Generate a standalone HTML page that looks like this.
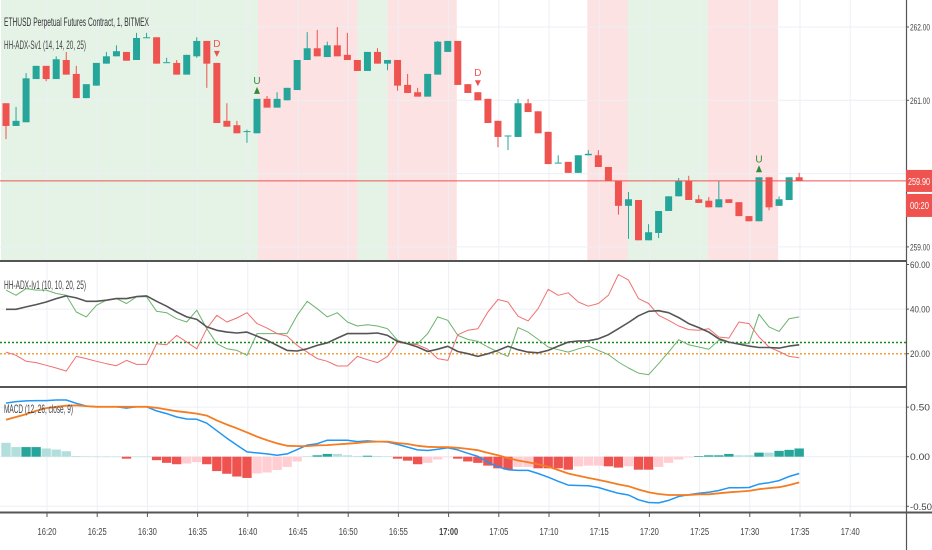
<!DOCTYPE html>
<html><head><meta charset="utf-8">
<style>
html,body{margin:0;padding:0;background:#fff;}
svg{display:block;font-family:"Liberation Sans Narrow","Liberation Sans",sans-serif;}
</style></head>
<body>
<svg id="chart" width="932" height="550" viewBox="0 0 932 550" xmlns="http://www.w3.org/2000/svg"></svg>
<script>
const timeLabels=["16:20","16:25","16:30","16:35","16:40","16:45","16:50","16:55","17:00","17:05","17:10","17:15","17:20","17:25","17:30","17:35","17:40"];
const priceTicks=[262,261,260,259];
const adxTicks=[60,40,20];
const macdTicks=[0.5,0,-0.5];
const openP=[260.96,260.65,260.70,261.29,261.47,261.29,261.55,261.36,261.03,261.20,261.50,261.60,261.66,261.55,261.85,261.86,261.51,261.51,261.35,261.60,261.81,261.51,260.72,260.66,260.57,260.55,261.02,260.90,261.00,261.14,261.55,261.71,261.59,261.75,261.62,261.55,261.40,261.66,261.50,261.55,261.21,261.11,261.05,261.35,261.66,261.81,261.22,261.11,261.02,260.72,260.51,260.50,260.96,260.85,260.57,260.14,260.16,260.01,260.25,260.25,260.09,259.90,259.56,259.64,259.09,259.19,259.49,259.69,259.90,259.65,259.63,259.54,259.65,259.61,259.42,259.35,259.95,259.56,259.64,259.95];
const closeP=[260.65,260.72,261.30,261.47,261.29,261.56,261.35,261.03,261.22,261.51,261.60,261.67,261.54,261.85,261.86,261.50,261.52,261.35,261.62,261.81,261.50,260.69,260.64,260.55,260.58,261.02,260.90,261.02,261.17,261.55,261.71,261.60,261.75,261.60,261.55,261.40,261.66,261.50,261.55,261.20,261.10,261.05,261.36,261.80,261.81,261.21,261.10,261.00,260.69,260.50,260.52,260.96,260.84,260.55,260.13,260.15,260.01,260.25,260.27,260.09,259.90,259.56,259.65,259.09,259.20,259.49,259.69,259.90,259.64,259.60,259.54,259.65,259.60,259.42,259.35,259.95,259.54,259.65,259.95,259.90];
const highP=[260.96,260.91,261.37,261.47,261.47,261.60,261.66,261.47,261.22,261.51,261.66,261.75,261.66,261.92,261.92,261.86,261.58,261.55,261.62,261.86,261.81,261.51,260.96,260.72,260.60,261.02,261.06,261.11,261.17,261.55,261.93,261.96,261.80,262.00,261.92,261.55,261.66,261.71,261.55,261.55,261.36,261.17,261.36,261.81,261.81,261.81,261.22,261.11,261.02,260.72,260.52,261.02,261.02,260.85,260.57,260.25,260.16,260.25,260.32,260.32,260.09,259.90,259.75,259.64,259.31,259.49,259.69,259.94,259.97,259.71,259.68,259.90,259.65,259.61,259.42,259.95,259.95,259.69,259.95,260.01];
const lowP=[260.47,260.65,260.70,261.29,261.26,261.29,261.35,261.03,261.03,261.20,261.50,261.60,261.54,261.55,261.85,261.50,261.51,261.35,261.35,261.58,261.17,260.69,260.64,260.55,260.42,260.55,260.90,260.90,261.00,261.14,261.55,261.60,261.59,261.60,261.55,261.40,261.40,261.50,261.41,261.13,261.10,261.05,261.05,261.35,261.66,261.21,261.10,261.00,260.69,260.36,260.32,260.50,260.84,260.55,260.13,260.14,260.01,260.01,260.25,260.09,259.90,259.44,259.11,259.09,259.09,259.12,259.49,259.69,259.64,259.60,259.54,259.54,259.60,259.42,259.35,259.35,259.50,259.56,259.64,259.90];
const diPlus=[48.5,46.2,49.2,48.5,48.5,47,46.2,38.7,36.5,41.7,44.0,44.7,42.5,45.5,45.5,39.0,38.4,35.7,34.2,39.5,31.2,24.5,22.2,21.5,19.3,29.0,29.0,29.0,29.0,37.2,43.5,40.2,36.5,38.4,34.2,32.4,33.0,32.4,31.2,26.0,24.5,24.5,29.0,36.5,35.0,28.2,26.4,25.5,23.0,20.7,18.8,31.7,29.7,26.4,23.0,21.8,20.7,22.2,23.4,21.5,19.6,16.3,13.6,11.3,10.6,15.5,20.7,26.3,24.0,23.0,22.0,26.0,25.2,24.5,24.5,37.7,32.0,30.0,35.7,36.5];
const diMinus=[20.7,19.3,16.6,16.0,14.8,13.6,12.2,18.8,17.8,16.6,15.5,14.6,17.0,15.2,15.2,24.5,24.0,28.2,25.2,22.2,31.2,37.2,34.2,36.0,38.4,33.5,31.5,29.0,27.9,23.7,20.7,17.8,16.6,14.5,14.5,18.8,17.3,16.0,18.8,25.2,24.5,24.0,22.0,17.8,17.0,28.5,30.5,31.2,38.7,44.3,43.2,36.8,34.7,40.2,48.9,46.2,47.3,43.2,41.3,42.5,46.2,55.5,53.0,44.7,42.5,37.2,35.0,32.4,30.8,30.5,31.2,27.5,27.0,34.2,33.5,27.5,23.0,21.0,18.8,18.2];
const adx=[39.9,39.9,41.0,42.0,43.2,44.7,45.9,45.0,43.5,43.5,44.0,44.7,44.7,45.6,45.9,43.5,41.3,38.7,36.5,35.4,32.0,30.5,29.7,29.3,29.7,27.9,26.0,23.7,21.5,21.2,22.2,23.7,24.9,27.0,29.0,29.0,29.0,29.3,28.2,25.5,24.5,23.0,21.0,22.0,23.3,21.0,20.0,18.8,20.0,21.5,23.3,21.8,20.7,20.4,21.5,23.4,25.2,25.7,25.8,26.7,28.5,31.2,34.0,37.0,39.0,39.3,38.4,36.2,33.5,31.7,29.7,26.7,25.2,24.3,23.4,22.8,22.8,22.5,23.4,24.0];
const macdLine=[0.54,0.555,0.562,0.566,0.566,0.572,0.572,0.538,0.51,0.503,0.503,0.503,0.49,0.503,0.503,0.462,0.434,0.4,0.38,0.377,0.338,0.262,0.186,0.117,0.048,0.038,0.028,0.014,0.028,0.072,0.117,0.131,0.166,0.166,0.166,0.152,0.159,0.152,0.148,0.124,0.097,0.069,0.062,0.076,0.09,0.069,0.034,0.003,-0.055,-0.103,-0.131,-0.138,-0.138,-0.169,-0.207,-0.248,-0.286,-0.29,-0.293,-0.31,-0.341,-0.369,-0.386,-0.434,-0.462,-0.466,-0.441,-0.4,-0.383,-0.369,-0.359,-0.341,-0.314,-0.314,-0.31,-0.276,-0.262,-0.241,-0.2,-0.169];
const signalLine=[0.372,0.4,0.428,0.462,0.49,0.503,0.514,0.517,0.51,0.503,0.503,0.503,0.503,0.503,0.503,0.493,0.476,0.459,0.448,0.434,0.414,0.366,0.324,0.286,0.245,0.203,0.166,0.134,0.11,0.107,0.107,0.114,0.117,0.124,0.131,0.138,0.148,0.152,0.152,0.138,0.128,0.11,0.1,0.097,0.097,0.09,0.079,0.066,0.038,0.014,-0.014,-0.038,-0.055,-0.076,-0.1,-0.134,-0.169,-0.193,-0.214,-0.234,-0.255,-0.279,-0.297,-0.331,-0.359,-0.376,-0.386,-0.386,-0.386,-0.379,-0.379,-0.369,-0.359,-0.352,-0.345,-0.328,-0.317,-0.307,-0.286,-0.259];
const histo=[0.14,0.097,0.097,0.097,0.083,0.072,0.055,0.007,0.002,0.001,0.001,0.001,-0.02,0.001,0.001,-0.035,-0.062,-0.076,-0.069,-0.055,-0.076,-0.145,-0.172,-0.2,-0.214,-0.169,-0.159,-0.134,-0.103,-0.048,0.005,0.014,0.028,0.028,0.014,0.007,0.01,0.007,0.002,-0.02,-0.04,-0.076,-0.062,-0.028,-0.002,-0.02,-0.048,-0.062,-0.09,-0.117,-0.131,-0.103,-0.103,-0.117,-0.117,-0.117,-0.131,-0.097,-0.09,-0.09,-0.097,-0.11,-0.097,-0.131,-0.131,-0.103,-0.062,-0.028,-0.007,0.007,0.014,0.014,0.028,0.014,0.014,0.041,0.041,0.059,0.069,0.083];
const histDark=[0,0,1,1,0,0,0,0,0,0,0,0,1,0,0,1,1,1,0,0,1,1,1,1,1,0,0,0,0,0,0,1,1,0,0,0,1,0,0,1,1,1,0,0,0,1,1,1,1,1,1,0,0,1,1,1,1,0,0,0,1,1,0,1,1,0,0,0,0,1,1,1,1,0,0,1,0,1,1,1];
const bandStart=[0,25.6,35.5,38.5,58.4,62.4,70.4];
const bandEnd=[25.6,35.5,38.5,45.4,62.4,70.4,77.4];
const bandKind=["g","r","g","r","r","g","r"];
const signalIdx=[21,25,47,75];
const signalType=["D","U","D","U"];
const lastPrice=259.90;

const NS="http://www.w3.org/2000/svg";
const svg=document.getElementById('chart');
function mk(tag,attrs,parent){const e=document.createElementNS(NS,tag);for(const k in attrs)e.setAttribute(k,attrs[k]);(parent||svg).appendChild(e);return e;}
const PW=906;
const xBar=i=>6+10.04*i;
const yPrice=p=>27+(262-p)*73.3;
const yAdx=v=>353.7-(v-20)*2.23;
const yMacd=v=>456.7-v*99.2;
const xTime=k=>47+50.2*k;

const gB=mk('g',{});


bandStart.forEach((s,k)=>{
  const x0=xBar(s)-5,x1=xBar(bandEnd[k])-5;
  const r=mk('rect',{x:x0,y:0,width:x1-x0,height:260,fill:bandKind[k]==="g"?"#e5f3e6":"#fde2e3"},gB);
  
  
});
const gG=mk('g',{stroke:"#eceff4","stroke-width":1});


timeLabels.forEach((t,k)=>{mk('line',{x1:xTime(k),x2:xTime(k),y1:0,y2:512},gG);});
priceTicks.forEach(p=>mk('line',{x1:0,x2:PW,y1:yPrice(p),y2:yPrice(p)},gG));
mk('line',{x1:0,x2:PW,y1:yAdx(40),y2:yAdx(40)},gG);
macdTicks.forEach(v=>mk('line',{x1:0,x2:PW,y1:yMacd(v),y2:yMacd(v)},gG));

const gC=mk('g',{});


openP.forEach((o,i)=>{
  const c=closeP[i],up=c>=o,col=up?"#26a69a":"#ef5350",x=xBar(i);
  const g=mk('g',{},gC);
  
  
  mk('line',{x1:x,x2:x,y1:yPrice(highP[i]),y2:yPrice(lowP[i]),stroke:col,"stroke-width":1},g);
  const yt=yPrice(Math.max(o,c)),yb=yPrice(Math.min(o,c));
  mk('rect',{x:x-3.5,y:yt,width:7,height:Math.max(1,yb-yt),fill:col},g);
});
signalIdx.forEach((i,k)=>{
  const x=xBar(i),isD=signalType[k]==="D";
  const g=mk('g',{});
  
  
  if(isD){const yt=yPrice(highP[i])-6;
    mk('polygon',{points:`${x-3},${yt-6} ${x+3},${yt-6} ${x},${yt}`,fill:"#ef5350"},g);
    const t=mk('text',{x:x,y:yt-10,"font-size":10,fill:"#ef5350","text-anchor":"middle"},g);t.textContent="D";
  }else{const yt=yPrice(highP[i])-5;
    mk('polygon',{points:`${x-3},${yt} ${x+3},${yt} ${x},${yt-7}`,fill:"#2e8b3a"},g);
    const t=mk('text',{x:x,y:yt-10,"font-size":10,fill:"#2e8b3a","text-anchor":"middle"},g);t.textContent="U";
  }
});
const lp=mk('line',{x1:0,x2:PW,y1:yPrice(lastPrice),y2:yPrice(lastPrice),stroke:"#ef5350","stroke-width":1});



function poly(arr,yf,col,w,name){
  const pts=arr.map((v,i)=>xBar(i).toFixed(1)+","+yf(v).toFixed(1)).join(" ");
  const p=mk('polyline',{points:pts,fill:"none",stroke:col,"stroke-width":w,"stroke-linejoin":"round"});
  
  
}
const l25=mk('line',{x1:0,x2:PW,y1:yAdx(25),y2:yAdx(25),stroke:"#1a8a1a","stroke-width":1.5,"stroke-dasharray":"2,2"});


const l20=mk('line',{x1:0,x2:PW,y1:yAdx(20),y2:yAdx(20),stroke:"#f0a040","stroke-width":1.5,"stroke-dasharray":"2,2"});


poly(diPlus,yAdx,"#6db36d",1,'di-plus-line');
poly(diMinus,yAdx,"#f07070",1,'di-minus-line');
poly(adx,yAdx,"#555",1.6,'adx-line');

const gH=mk('g',{});


histo.forEach((v,i)=>{
  const y0=yMacd(0),y1=yMacd(v);
  const col=v>=0?(histDark[i]?"#26a69a":"#b2dfdb"):(histDark[i]?"#ef5350":"#ffcdd2");
  const r=mk('rect',{x:xBar(i)-4.7,y:Math.min(y0,y1),width:9.4,height:Math.max(0.5,Math.abs(y1-y0)),fill:col},gH);
  
  
});
poly(macdLine,yMacd,"#2196f3",1.5,'macd-line');
poly(signalLine,yMacd,"#f57c20",1.8,'signal-line');

[[0,261,PW,261],[0,387,PW,387],[0,512.5,932,512.5]].forEach(s=>{
  const l=mk('line',{x1:s[0],y1:s[1],x2:s[2],y2:s[3],stroke:"#555","stroke-width":2});
  
  
});
const ax=mk('line',{x1:906.5,x2:906.5,y1:0,y2:550,stroke:"#555","stroke-width":1.2});



function lab(txt,x,y,name,opts){
  const t=mk('text',Object.assign({x:x,y:y,"font-size":10,fill:"#444"},opts||{}));
  t.textContent=txt;
  
  
  return t;
}
const axOpt={"font-size":9.5,textLength:20,lengthAdjust:"spacingAndGlyphs"};
priceTicks.forEach(p=>{if(p!==260){mk('line',{x1:906,x2:909,y1:yPrice(p),y2:yPrice(p),stroke:"#555"});lab(p.toFixed(2),910,yPrice(p)+3.5,'price-tick-label',axOpt);}});
adxTicks.forEach(v=>{mk('line',{x1:906,x2:909,y1:yAdx(v),y2:yAdx(v),stroke:"#555"});lab(v.toFixed(2),910,yAdx(v)+3.5,'adx-tick-label',axOpt);});
macdTicks.forEach(v=>{mk('line',{x1:906,x2:909,y1:yMacd(v),y2:yMacd(v),stroke:"#555"});lab(v.toFixed(2),910,yMacd(v)+3.5,'macd-tick-label',Object.assign({},axOpt,{textLength:v<0?22:20}));});
timeLabels.forEach((t,k)=>{mk('line',{x1:xTime(k),x2:xTime(k),y1:513,y2:517,stroke:"#555"});lab(t,xTime(k),535,'time-tick-label',{"text-anchor":"middle","font-weight":t==="17:00"?"bold":"normal",textLength:19,lengthAdjust:"spacingAndGlyphs"});});

const pb=mk('rect',{x:906,y:yPrice(lastPrice)-11,width:26,height:22,fill:"#ef5350"});


lab(lastPrice.toFixed(2),908,yPrice(lastPrice)+4,'last-price-value',{fill:"#fff",textLength:22,lengthAdjust:"spacingAndGlyphs"});
const tb=mk('rect',{x:906,y:yPrice(lastPrice)+13,width:26,height:23,fill:"#ef5350"});


lab("00:20",910,yPrice(lastPrice)+28,'bar-countdown-value',{fill:"#fff",textLength:19,lengthAdjust:"spacingAndGlyphs"});

lab("ETHUSD Perpetual Futures Contract, 1, BITMEX",4,26,'symbol-title',{"font-size":12,fill:"#333",textLength:145,lengthAdjust:"spacingAndGlyphs"});
lab("HH-ADX-Sv1 (14, 14, 20, 25)",4,49,'price-indicator-legend',{"font-size":12,fill:"#444",textLength:82,lengthAdjust:"spacingAndGlyphs"});
lab("HH-ADX-Iv1 (10, 10, 20, 25)",4,289,'adx-indicator-legend',{"font-size":12,fill:"#444",textLength:82,lengthAdjust:"spacingAndGlyphs"});
lab("MACD (12, 26, close, 9)",4,413,'macd-indicator-legend',{"font-size":12,fill:"#444",textLength:69,lengthAdjust:"spacingAndGlyphs"});
</script>
</body></html>
